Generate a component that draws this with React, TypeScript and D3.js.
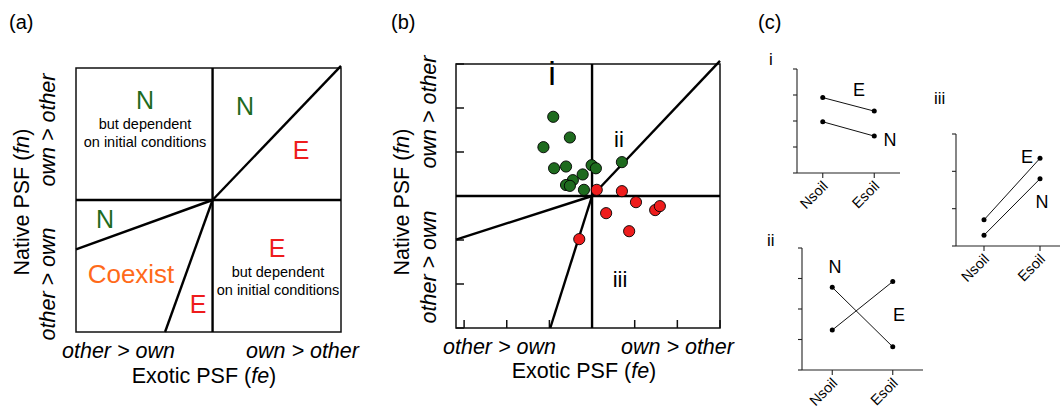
import React from "react";
import * as d3 from "d3";

// ---------- data ----------
const psfTicks = [-3, -2, -1, 0, 1, 2, 3];

// panel (a) boundary lines (from origin)
const boundaryA = [
  { x: 3.0, y: 3.05 },
  { x: -3.19, y: -1.12 },
  { x: -1.11, y: -3.0 },
];
// panel (b) boundary lines (from origin)
const boundaryB = [
  { x: 3.0, y: 3.07 },
  { x: -3.19, y: -0.99 },
  { x: -0.98, y: -3.0 },
];

const nativeWinX = [-0.91, -0.52, -1.14, -0.89, -0.61, -0.01, 0.09, 0.7, -0.22, -0.45, -0.61, -0.52, -0.19];
const nativeWinY = [1.8, 1.33, 1.11, 0.63, 0.67, 0.7, 0.63, 0.77, 0.49, 0.36, 0.25, 0.23, 0.14];
const exoticWinX = [0.11, 0.7, 1.03, 0.33, 1.48, 1.59, 0.87, -0.3];
const exoticWinY = [0.14, 0.11, -0.14, -0.39, -0.32, -0.23, -0.8, -0.98];

const soils = ["Nsoil", "Esoil"];
const c1E = [2.9, 2.38];
const c1N = [1.97, 1.42];
const c2N = [2.71, 0.76];
const c2E = [1.31, 2.9];
const c3E = [0.7, 2.35];
const c3N = [0.29, 1.8];

const FONT = "'Liberation Sans', Arial, Helvetica, sans-serif";
const GREEN = "#1e6b1e";
const RED = "#ee1c1c";
const ORANGE = "#ff6a1a";
const AX = 21.5;

function PanelA() {
  const x = d3.scaleLinear().domain([-3.19, 3]).range([76, 341]);
  const y = d3.scaleLinear().domain([-3, 3]).range([332, 68]);
  const x0 = x(0), y0 = y(0);
  return (
    <g fontFamily={FONT}>
      <text x={9} y={29} fontSize={20}>(a)</text>
      <rect x={x(-3.19)} y={y(3)} width={x(3) - x(-3.19)} height={y(-3) - y(3)} fill="none" stroke="#111" strokeWidth={1.5} />
      <line x1={x0} x2={x0} y1={y(3)} y2={y(-3)} stroke="#000" strokeWidth={2.4} />
      <line x1={x(-3.19)} x2={x(3)} y1={y0} y2={y0} stroke="#000" strokeWidth={2.4} />
      {boundaryA.map((p, i) => (
        <line key={i} x1={x0} y1={y0} x2={x(p.x)} y2={y(p.y)} stroke="#000" strokeWidth={2.4} />
      ))}
      <text x={145} y={109} fontSize={25} fill={GREEN} textAnchor="middle">N</text>
      <text x={145} y={129} fontSize={14.5} textAnchor="middle">but dependent</text>
      <text x={145} y={147} fontSize={14.5} textAnchor="middle">on initial conditions</text>
      <text x={245} y={115} fontSize={25} fill={GREEN} textAnchor="middle">N</text>
      <text x={301} y={159} fontSize={25} fill={RED} textAnchor="middle">E</text>
      <text x={105} y={228} fontSize={25} fill={GREEN} textAnchor="middle">N</text>
      <text x={131} y={283} fontSize={26} fill={ORANGE} textAnchor="middle">Coexist</text>
      <text x={198} y={313} fontSize={25} fill={RED} textAnchor="middle">E</text>
      <text x={277} y={257} fontSize={25} fill={RED} textAnchor="middle">E</text>
      <text x={278} y={277} fontSize={14.5} textAnchor="middle">but dependent</text>
      <text x={278} y={295} fontSize={14.5} textAnchor="middle">on initial conditions</text>
      <text x={62} y={358} fontSize={AX} fontStyle="italic">other &gt; own</text>
      <text x={246} y={358} fontSize={AX} fontStyle="italic">own &gt; other</text>
      <text x={204} y={383} fontSize={AX} textAnchor="middle">
        Exotic PSF (<tspan fontStyle="italic">fe</tspan>)
      </text>
      <text transform="translate(29,202) rotate(-90)" fontSize={AX} textAnchor="middle">
        Native PSF (<tspan fontStyle="italic">fn</tspan>)
      </text>
      <text transform="translate(55,130) rotate(-90)" fontSize={AX} fontStyle="italic" textAnchor="middle">own &gt; other</text>
      <text transform="translate(55,284) rotate(-90)" fontSize={AX} fontStyle="italic" textAnchor="middle">other &gt; own</text>
    </g>
  );
}

function PanelB() {
  const x = d3.scaleLinear().domain([-3.19, 3]).range([456, 720]);
  const y = d3.scaleLinear().domain([-3, 3]).range([328, 64]);
  const x0 = x(0), y0 = y(0);
  return (
    <g fontFamily={FONT}>
      <text x={391} y={29} fontSize={20}>(b)</text>
      <rect x={x(-3.19)} y={y(3)} width={x(3) - x(-3.19)} height={y(-3) - y(3)} fill="none" stroke="#111" strokeWidth={1.5} />
      {psfTicks.map((t) => (
        <line key={"yt" + t} x1={x(-3.19)} x2={x(-3.19) + 8} y1={y(t)} y2={y(t)} stroke="#111" strokeWidth={1.5} />
      ))}
      {psfTicks.map((t) => (
        <line key={"xt" + t} x1={x(t)} x2={x(t)} y1={y(-3)} y2={y(-3) - 8} stroke="#111" strokeWidth={1.5} />
      ))}
      <line x1={x0} x2={x0} y1={y(3)} y2={y(-3)} stroke="#000" strokeWidth={2.4} />
      <line x1={x(-3.19)} x2={x(3)} y1={y0} y2={y0} stroke="#000" strokeWidth={2.4} />
      {boundaryB.map((p, i) => (
        <line key={i} x1={x0} y1={y0} x2={x(p.x)} y2={y(p.y)} stroke="#000" strokeWidth={2.4} />
      ))}
      {nativeWinX.map((v, i) => (
        <circle key={"g" + i} cx={x(v)} cy={y(nativeWinY[i])} r={5.6} fill={GREEN} stroke="#000" strokeWidth={0.9} />
      ))}
      {exoticWinX.map((v, i) => (
        <circle key={"r" + i} cx={x(v)} cy={y(exoticWinY[i])} r={5.6} fill={RED} stroke="#000" strokeWidth={0.9} />
      ))}
      <text x={552} y={85} fontSize={34} textAnchor="middle">i</text>
      <text x={619} y={147} fontSize={22} textAnchor="middle">ii</text>
      <text x={620} y={287} fontSize={22} textAnchor="middle">iii</text>
      <text x={443} y={354} fontSize={AX} fontStyle="italic">other &gt; own</text>
      <text x={621} y={354} fontSize={AX} fontStyle="italic">own &gt; other</text>
      <text x={584} y={378} fontSize={AX} textAnchor="middle">
        Exotic PSF (<tspan fontStyle="italic">fe</tspan>)
      </text>
      <text transform="translate(409,202) rotate(-90)" fontSize={AX} textAnchor="middle">
        Native PSF (<tspan fontStyle="italic">fn</tspan>)
      </text>
      <text transform="translate(436,112) rotate(-90)" fontSize={AX} fontStyle="italic" textAnchor="middle">own &gt; other</text>
      <text transform="translate(436,267) rotate(-90)" fontSize={AX} fontStyle="italic" textAnchor="middle">other &gt; own</text>
    </g>
  );
}

function SmallPanel({ left, right, top, bottom, nTicks, series, labels, title, titlePos }: any) {
  const x = d3.scaleLinear().domain([0, 2]).range([left, right]);
  const y = d3.scaleLinear().domain([0, nTicks]).range([bottom, top]);
  const ticks = d3.range(0, nTicks + 1);
  return (
    <g fontFamily={FONT}>
      <text x={titlePos[0]} y={titlePos[1]} fontSize={17}>{title}</text>
      <line x1={left} x2={left} y1={top} y2={bottom} stroke="#222" strokeWidth={1.1} />
      <line x1={left} x2={right} y1={bottom} y2={bottom} stroke="#222" strokeWidth={1.1} />
      {ticks.map((t: number) => (
        <line key={t} x1={left - 4} x2={left} y1={y(t)} y2={y(t)} stroke="#222" strokeWidth={1.1} />
      ))}
      {soils.map((s, i) => (
        <g key={s}>
          <line x1={x(i + 0.5)} x2={x(i + 0.5)} y1={bottom} y2={bottom + 5} stroke="#222" strokeWidth={1.1} />
          <text transform={`translate(${x(i + 0.5) + 6},${bottom + 14}) rotate(-45)`} fontSize={14.5} textAnchor="end">{s}</text>
        </g>
      ))}
      {series.map((vals: number[], k: number) => (
        <g key={k}>
          <line x1={x(0.5)} y1={y(vals[0])} x2={x(1.5)} y2={y(vals[1])} stroke="#111" strokeWidth={1} />
          {vals.map((v: number, i: number) => (
            <circle key={i} cx={x(i + 0.5)} cy={y(v)} r={2.5} fill="#000" />
          ))}
        </g>
      ))}
      {labels.map((l: any, i: number) => (
        <text key={i} x={l[1]} y={l[2]} fontSize={18} textAnchor="middle">{l[0]}</text>
      ))}
    </g>
  );
}

export default function App() {
  return (
    <svg width={1060} height={414} style={{ position: "absolute", left: 0, top: 0, background: "#fff" }}>
      <rect width={1060} height={414} fill="#fff" />
      <PanelA />
      <PanelB />
      <text x={758} y={29} fontSize={20} fontFamily={FONT}>(c)</text>
      <SmallPanel left={797} right={900} top={69} bottom={173} nTicks={4}
        series={[c1E, c1N]} labels={[["E", 859, 96], ["N", 890, 146]]}
        title="i" titlePos={[769, 65]} />
      <SmallPanel left={802} right={923} top={248} bottom={370} nTicks={4}
        series={[c2N, c2E]} labels={[["N", 835, 273], ["E", 899, 321]]}
        title="ii" titlePos={[767, 246]} />
      <SmallPanel left={956} right={1068} top={134} bottom={246} nTicks={3}
        series={[c3E, c3N]} labels={[["E", 1027, 163], ["N", 1042, 208]]}
        title="iii" titlePos={[934, 104]} />
    </svg>
  );
}
